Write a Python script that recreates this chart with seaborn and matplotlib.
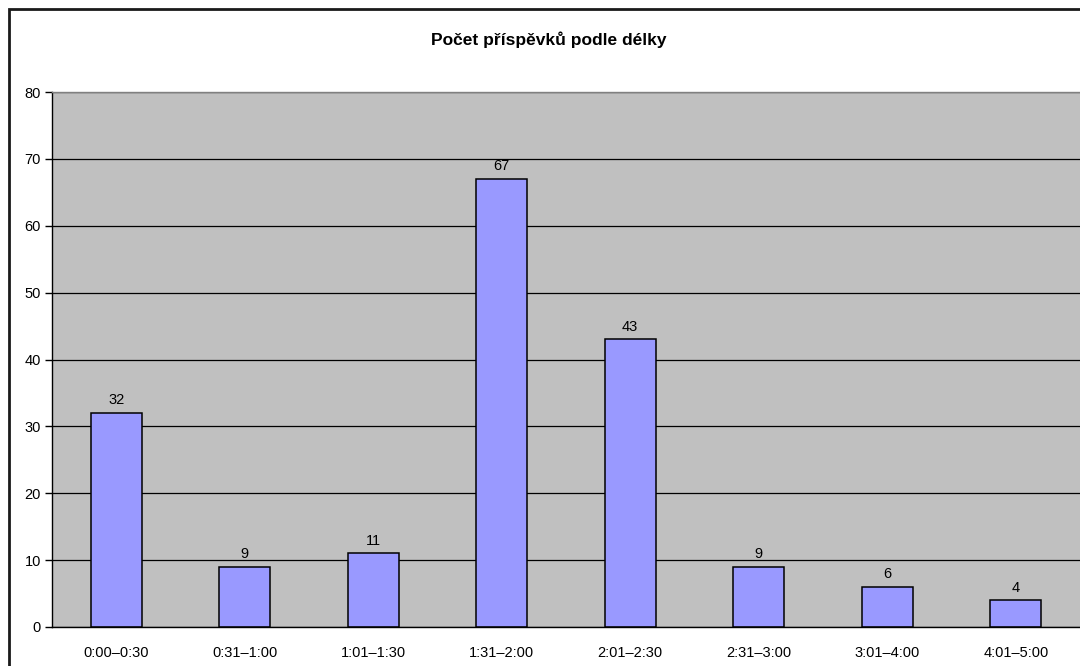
import matplotlib
matplotlib.use("Agg")
import matplotlib.pyplot as plt
from matplotlib.patches import Rectangle
import matplotlib.ticker as ticker
import pandas as pd
import seaborn as sns

title = "Počet příspěvků podle délky"
categories = ["0:00–0:30", "0:31–1:00", "1:01–1:30", "1:31–2:00",
              "2:01–2:30", "2:31–3:00", "3:01–4:00", "4:01–5:00"]
counts = [32, 9, 11, 67, 43, 9, 6, 4]

sns.set_theme(style="white")
plt.rcParams['font.family'] = ['Liberation Sans', 'DejaVu Sans']

df = pd.DataFrame({"delka": categories, "pocet": counts})

fig = plt.figure(figsize=(10.8, 6.66), dpi=100)
ax = fig.add_axes([52/1080, 1-627/666, 1-52/1080, (627-92)/666])

ax.set_facecolor("#C0C0C0")
ax.set_axisbelow(True)
ax.yaxis.grid(True, color="black", linewidth=0.9)

sns.barplot(data=df, x="delka", y="pocet", color="#9999FF", saturation=1,
            edgecolor="black", linewidth=1.1, width=0.4, ax=ax)
ax.bar_label(ax.containers[0], padding=4, fontsize=10.5, color="black")

ax.set_ylim(0, 80)
ax.set_xlim(-0.5, len(categories) - 0.5)
ax.yaxis.set_major_locator(ticker.MultipleLocator(10))
ax.set_xlabel("")
ax.set_ylabel("")

# ticks between categories, labels at centres
ax.set_xticks([i + 0.5 for i in range(len(categories) - 1)], minor=True)
ax.tick_params(axis="x", which="major", length=0, pad=14, labelsize=10.5)
ax.tick_params(axis="x", which="minor", length=5, width=1, color="black", direction="out")
ax.tick_params(axis="y", length=5, width=1, color="black", direction="out",
               left=True, pad=3, labelsize=10.5)
for lbl in ax.get_xticklabels() + ax.get_yticklabels():
    lbl.set_color("black")

for s in ["left", "bottom"]:
    ax.spines[s].set_color("black")
    ax.spines[s].set_linewidth(1)
ax.spines["top"].set_color("#808080")
ax.spines["top"].set_linewidth(1)
ax.spines["right"].set_visible(False)

# chart border
fig.add_artist(Rectangle((9/1080, -0.1), 1.2, 1 - 9/666 + 0.1,
                         transform=fig.transFigure, fill=False,
                         edgecolor="#1a1a1a", linewidth=2))

fig.text(549/1080, 1 - 40/666, title, ha="center", va="center",
         fontsize=12.5, fontweight="bold", color="black")

fig.savefig("out.png", dpi=100, facecolor="white")
